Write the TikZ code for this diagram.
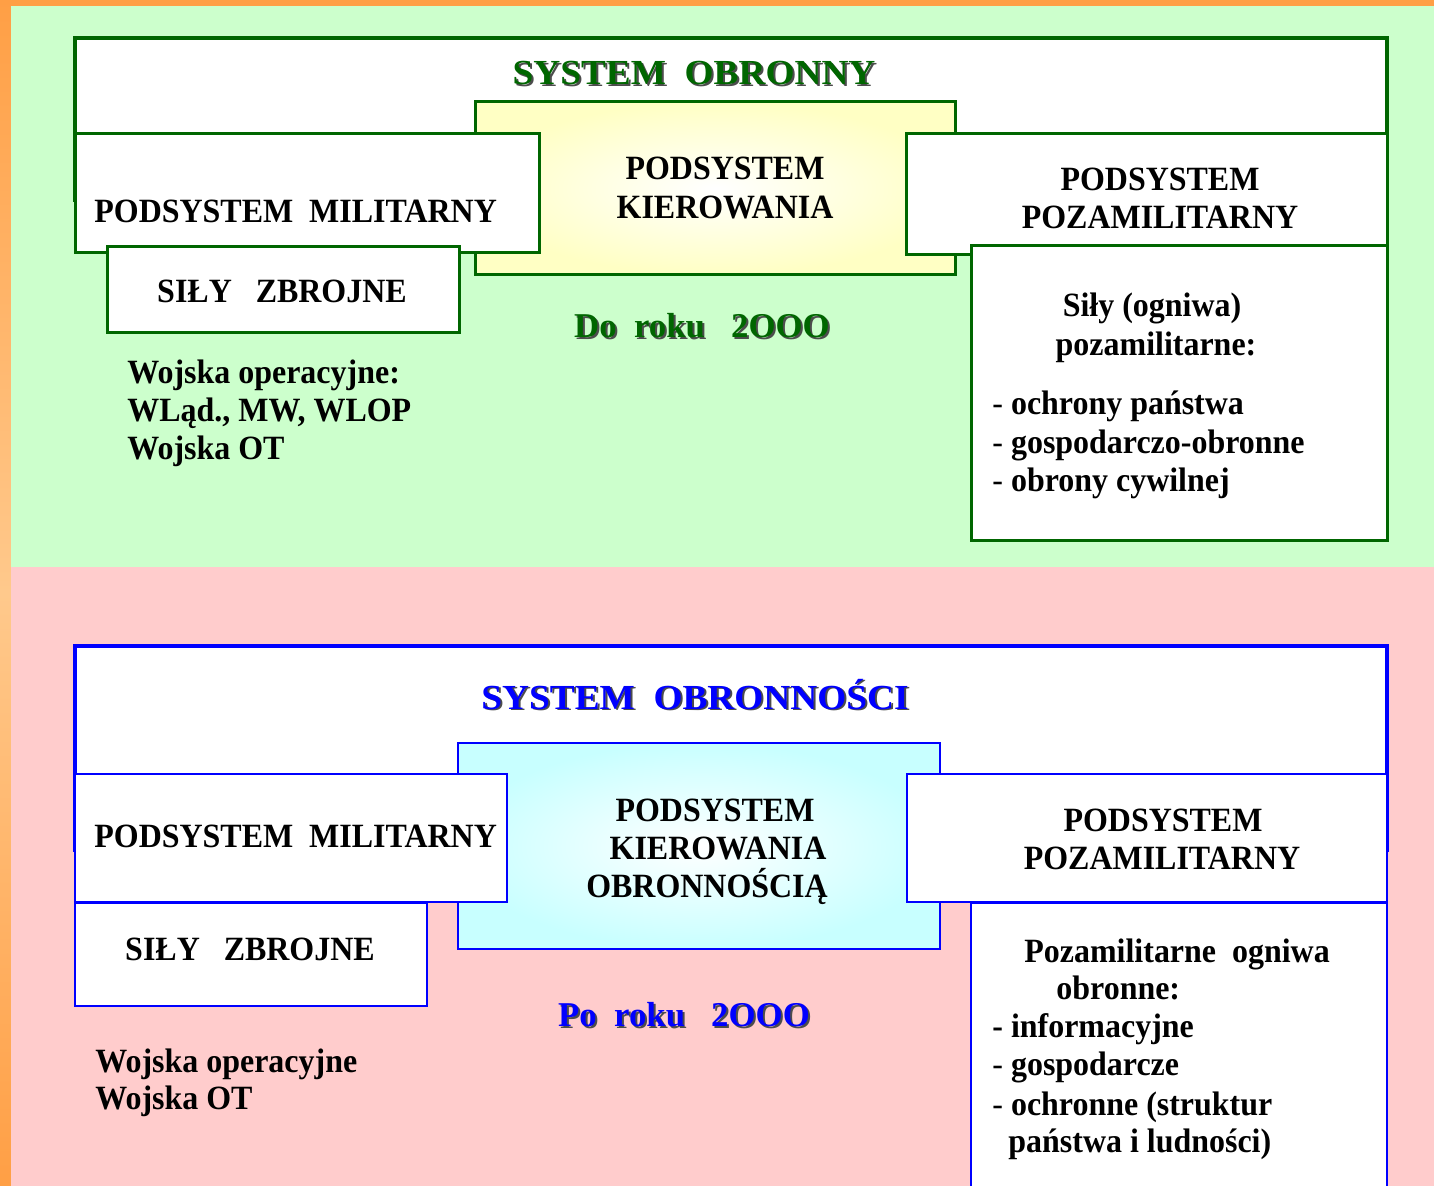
\documentclass[tikz,border=0pt]{standalone}
\usepackage{fontspec}
\setmainfont{Liberation Serif}
\newfontfamily\bodyf[FakeStretch=0.94]{Liberation Serif}
\newfontfamily\titlef[FakeStretch=1.06]{Liberation Serif}
\definecolor{org}{HTML}{FF9F45}
\definecolor{orgl}{HTML}{FFC98C}
\definecolor{bggreen}{HTML}{CCFFCC}
\definecolor{bgpink}{HTML}{FFCCCC}
\definecolor{dgreen}{HTML}{006600}
\definecolor{lyellow}{HTML}{FFFFC4}
\definecolor{lcyan}{HTML}{C8FFFF}
\definecolor{pblue}{HTML}{0000FF}
\newcommand\shd[1]{\rlap{\kern1pt\raisebox{-1pt}{\color{black!70}#1}}#1}
\begin{document}
\begin{tikzpicture}[x=0.5pt,y=-0.5pt,
  txt/.style={inner sep=0pt, font=\bodyf\fontsize{17}{20}\selectfont\bfseries},
  ttl/.style={inner sep=0pt, font=\titlef\fontsize{17.6}{21}\selectfont\bfseries},
  yr/.style={inner sep=0pt, font=\fontsize{17.4}{21}\selectfont\bfseries},
  gbox/.style={draw=dgreen, line width=1.5pt, fill=white},
  bbox/.style={draw=pblue, line width=1.3pt, fill=white}]
\useasboundingbox (0,0) rectangle (1434,1186);
% background
\shade[top color=org, bottom color=org, middle color=orgl] (0,0) rectangle (1434,1186);
\fill[bggreen] (11,6) rectangle (1434,567);
\fill[bgpink] (11,567) rectangle (1434,1186);

% ---------- top part ----------
\draw[gbox, line width=2pt] (75,38) rectangle (1387,200);
\shadedraw[inner color=white, outer color=lyellow, draw=dgreen, line width=1.5pt] (475,102) rectangle (955,275);
\draw[gbox] (75,134) rectangle (539,253);
\draw[gbox] (906,134) rectangle (1387,255);
\draw[gbox] (107,247) rectangle (459,333);
\draw[gbox] (971,246) rectangle (1387,541);

\node[ttl, text=dgreen, anchor=base] (t1) at (694,85) {\shd{SYSTEM\ \ OBRONNY}};
\node[txt, anchor=base] (t1k1) at (725,180) {PODSYSTEM};
\node[txt, anchor=base] (t1k2) at (725,219) {KIEROWANIA};
\node[txt, anchor=base west] (t1m) at (94,223) {PODSYSTEM\ \ MILITARNY};
\node[txt, anchor=base] (t1p1) at (1160,191) {PODSYSTEM};
\node[txt, anchor=base] (t1p2) at (1160,229) {POZAMILITARNY};
\node[txt, anchor=base] (t1s) at (282,303) {SIŁY\ \ \ ZBROJNE};
\node[yr, text=dgreen, anchor=base] (t1d) at (702,338) {\shd{Do\ \ roku\ \ \ 2OOO}};
\node[txt, anchor=base west] (t1w1) at (127,384) {Wojska operacyjne:};
\node[txt, anchor=base west] (t1w2) at (127,422) {WLąd., MW, WLOP};
\node[txt, anchor=base west] (t1w3) at (127,460) {Wojska OT};
\node[txt, anchor=base] (t1r1) at (1152,317) {Siły (ogniwa)};
\node[txt, anchor=base] (t1r2) at (1156,356) {pozamilitarne:};
\node[txt, anchor=base west] (t1r3) at (992,415) {{\mdseries -} ochrony państwa};
\node[txt, anchor=base west] (t1r4) at (992,454) {{\mdseries -} gospodarczo-obronne};
\node[txt, anchor=base west] (t1r5) at (992,492) {{\mdseries -} obrony cywilnej};

% ---------- bottom part ----------
\draw[bbox, line width=1.8pt] (75,646) rectangle (1387,850);
\shadedraw[inner color=white, outer color=lcyan, draw=pblue, line width=1.3pt] (458,743) rectangle (940,949);
\draw[bbox] (75,774) rectangle (507,902);
\draw[bbox] (907,774) rectangle (1387,902);
\draw[bbox] (75,903) rectangle (427,1006);
\draw[bbox] (971,903) rectangle (1387,1200);

\node[ttl, text=pblue, anchor=base] (t2) at (695,709) {\shd{SYSTEM\ \ OBRONNOŚCI}};
\node[txt, anchor=base] (t2k1) at (715,821) {PODSYSTEM};
\node[txt, anchor=base] (t2k2) at (718,859) {KIEROWANIA};
\node[txt, anchor=base] (t2k3) at (707,897) {OBRONNOŚCIĄ};
\node[txt, anchor=base west] (t2m) at (94,847) {PODSYSTEM\ \ MILITARNY};
\node[txt, anchor=base] (t2p1) at (1163,831) {PODSYSTEM};
\node[txt, anchor=base] (t2p2) at (1162,869) {POZAMILITARNY};
\node[txt, anchor=base] (t2s) at (250,960) {SIŁY\ \ \ ZBROJNE};
\node[yr, text=pblue, anchor=base] (t2d) at (684,1026) {\shd{Po\ \ roku\ \ \ 2OOO}};
\node[txt, anchor=base west] (t2w1) at (95,1072) {Wojska operacyjne};
\node[txt, anchor=base west] (t2w2) at (95,1109) {Wojska OT};
\node[txt, anchor=base west] (t2r1) at (1024,962) {Pozamilitarne\ \ ogniwa};
\node[txt, anchor=base west] (t2r2) at (1056,999) {obronne:};
\node[txt, anchor=base west] (t2r3) at (992,1037) {- informacyjne};
\node[txt, anchor=base west] (t2r4) at (992,1075) {{\mdseries -} gospodarcze};
\node[txt, anchor=base west] (t2r5) at (992,1115) {{\mdseries -} ochronne (struktur};
\node[txt, anchor=base west] (t2r6) at (1008,1152) {państwa i ludności)};
\end{tikzpicture}
\end{document}
